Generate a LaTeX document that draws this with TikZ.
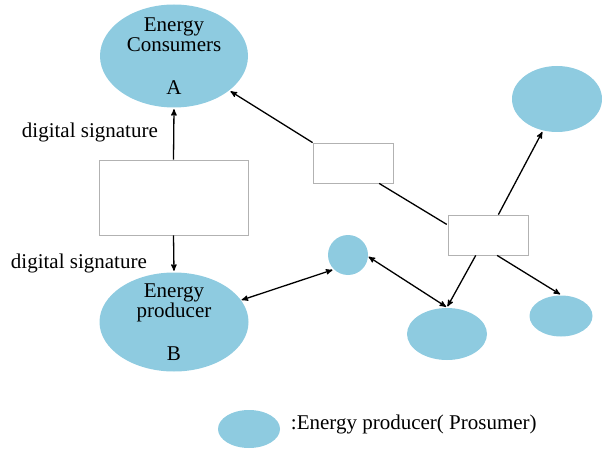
\documentclass[tikz,border=0pt]{standalone}
\usepackage{fontspec}
\setmainfont{Liberation Serif}
\usetikzlibrary{arrows,shapes.geometric}
\definecolor{prosumer}{RGB}{142,203,224}

\begin{document}
\begin{tikzpicture}[x=1pt,y=-1pt,->,>=stealth',shorten >=1pt,line width=1.3pt,
	every node/.style={font=\fontsize{21}{20}\selectfont},
	main node/.style={ellipse,fill=prosumer,draw=none,inner sep=0pt},
	box node/.style={rectangle,draw=gray!60,line width=0.8pt,fill=white,inner sep=0pt}]
	
	\useasboundingbox (0,0) rectangle (602,449);
	
	\node[main node,minimum width=148pt,minimum height=103pt] (A) at (174,56) {};
	\node[align=center] at (A) {Energy\\Consumers\\[23pt]A};
	\node[box node,minimum width=149pt,minimum height=75pt] (sig) at (173.5,197.5) {};
	\node[main node,minimum width=149pt,minimum height=99pt] (B) at (174,322) {};
	\node[align=center] at (B) {Energy\\producer\\[23pt]B};
	
	\node[anchor=base west] at (18,138) {digital signature};
	\node[anchor=base west] at (7,268) {digital signature};
	
	\node[box node,minimum width=80pt,minimum height=40pt] (m) at (353,163) {};
	\node[box node,minimum width=80pt,minimum height=40pt] (r) at (488,235) {};
	\node[main node,minimum width=90pt,minimum height=66pt] (t) at (557,99) {};
	\node[main node,circle,minimum size=40pt] (p) at (348,255) {};
	\node[main node,minimum width=80pt,minimum height=52pt] (q) at (447,334) {};
	\node[main node,minimum width=63pt,minimum height=41pt] (s) at (561,316) {};
	
	\node[main node,minimum width=62pt,minimum height=38pt] (leg) at (249,429) {};
	\node[anchor=base west] at (287,429) {:Energy producer( Prosumer)};
	
	\path
	(sig.north) edge (A.south)
	(sig.south) edge (B.north)
	(m.north west) edge (A)
	(m.-38) edge[-] (r.166)
	(r.63) edge (t.246)
	(r.239) edge (q.north)
	(r.294) edge (s.north)
	(B.18) edge[<->] (p.225)
	(p.-5) edge[<->] (q.north);
\end{tikzpicture}
\end{document}
